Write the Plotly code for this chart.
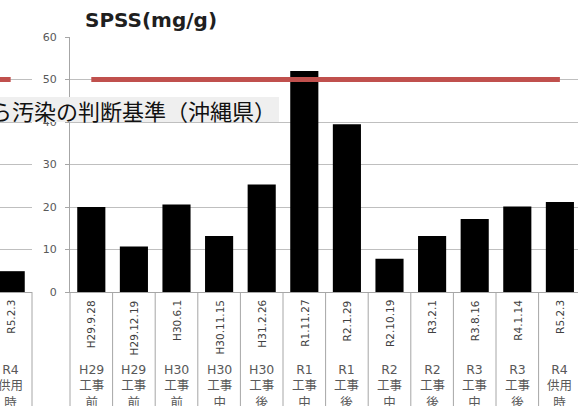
import plotly.graph_objects as go

# ---- data -------------------------------------------------------------
dates = ["H29.9.28", "H29.12.19", "H30.6.1", "H30.11.15", "H31.2.26", "R1.11.27",
         "R2.1.29", "R2.10.19", "R3.2.1", "R3.8.16", "R4.1.14", "R5.2.3"]
stages = ["H29<br>工事<br>前", "H29<br>工事<br>前", "H30<br>工事<br>前", "H30<br>工事<br>中",
          "H30<br>工事<br>後", "R1<br>工事<br>中", "R1<br>工事<br>後", "R2<br>工事<br>中",
          "R2<br>工事<br>後", "R3<br>工事<br>中", "R3<br>工事<br>後", "R4<br>供用<br>時"]
spss = [20.0, 10.7, 20.6, 13.2, 25.3, 52.0, 39.5, 7.8, 13.2, 17.2, 20.1, 21.2]
standard = 50  # 沖縄県の判断基準

# neighbouring panel (only its last survey is in view)
prev_dates = ["R5.2.3"]
prev_stages = ["R4<br>供用<br>時"]
prev_values = [4.9]

title_text = "SPSS(mg/g)"
standard_label = "ら汚染の判断基準（沖縄県）"

# ---- geometry (pixels) ------------------------------------------------
W, H = 578, 406
TOP, BOTTOM = 37, 292
MAIN_LEFT = 70
PREV_RIGHT = 32
CAT_W = 42.6
PLOT_H = BOTTOM - TOP

def px_x(p):
    return p / W

def px_y(p):
    return (BOTTOM - p) / PLOT_H

GRID = "#bfbfbf"
AXIS = "#a6a6a6"
TXT = "#595959"
RED = "#C0504D"
LATIN = "DejaVu Sans, Noto Sans CJK JP"

fig = go.Figure()

fig.add_trace(go.Bar(x=dates, y=spss, marker=dict(color="black", line=dict(width=0)),
                     width=0.66, xaxis="x", yaxis="y", showlegend=False))
fig.add_trace(go.Scatter(x=dates, y=[standard] * len(dates), mode="lines",
                         line=dict(color=RED, width=5), xaxis="x", yaxis="y",
                         showlegend=False))
fig.add_trace(go.Bar(x=prev_dates, y=prev_values, marker=dict(color="black", line=dict(width=0)),
                     width=0.66, xaxis="x2", yaxis="y2", showlegend=False))

n = len(dates)
fig.update_layout(
    width=W, height=H,
    margin=dict(l=0, r=0, t=TOP, b=H - BOTTOM, pad=0),
    paper_bgcolor="white", plot_bgcolor="white",
    xaxis=dict(domain=[px_x(MAIN_LEFT), 1], type="category",
               range=[-0.5, -0.5 + (W - MAIN_LEFT) / CAT_W],
               showline=True, linecolor=AXIS, linewidth=1,
               showgrid=False, showticklabels=False, ticks="", anchor="y"),
    yaxis=dict(domain=[0, 1], range=[0, 60], dtick=10, anchor="x",
               showgrid=True, gridcolor=GRID, gridwidth=1.3, zeroline=False,
               showline=True, linecolor=AXIS, linewidth=1,
               ticks="outside", ticklen=4, tickcolor=AXIS,
               ticklabelstandoff=6,
               tickfont=dict(family=LATIN, size=11, color=TXT)),
    xaxis2=dict(domain=[0, px_x(PREV_RIGHT)], type="category", range=[-0.25, 0.5],
                showline=True, linecolor=AXIS, linewidth=1,
                showgrid=False, showticklabels=False, ticks="", anchor="y2"),
    yaxis2=dict(domain=[0, 1], range=[0, 60], dtick=10, anchor="x2",
                showgrid=True, gridcolor=GRID, gridwidth=1.3, zeroline=False,
                showline=False, showticklabels=False, ticks=""),
    bargap=0.34,
)

shapes = []
# vertical rules of the category table
for k in range(1, n + 1):
    shapes.append(dict(type="line", xref="x", yref="paper", x0=k - 0.5, x1=k - 0.5,
                       y0=0, y1=-0.6, line=dict(color=AXIS, width=1)))
shapes.append(dict(type="line", xref="paper", yref="paper",
                   x0=px_x(MAIN_LEFT), x1=px_x(MAIN_LEFT), y0=0, y1=-0.6,
                   line=dict(color=AXIS, width=1)))
shapes.append(dict(type="line", xref="paper", yref="paper",
                   x0=px_x(PREV_RIGHT), x1=px_x(PREV_RIGHT), y0=0, y1=-0.6,
                   line=dict(color=AXIS, width=1)))
# standard line of the neighbouring panel
shapes.append(dict(type="line", xref="x2", yref="y2", x0=-1, x1=0,
                   y0=standard, y1=standard, line=dict(color=RED, width=5)))
# label background
shapes.append(dict(type="rect", xref="paper", yref="paper", layer="above",
                   x0=-0.02, x1=px_x(279), y0=px_y(122), y1=px_y(97),
                   fillcolor="#efefef", line=dict(width=0)))

annotations = []
for d, s in zip(dates, stages):
    annotations.append(dict(xref="x", yref="paper", x=d, y=0, yanchor="top",
                            yshift=-6, textangle=-90, text=d, showarrow=False,
                            font=dict(family=LATIN, size=10.5, color="#404040")))
    annotations.append(dict(xref="x", yref="paper", x=d, y=0, yanchor="top",
                            yshift=-68, text=s, showarrow=False, align="center",
                            font=dict(family=LATIN, size=12.5, color=TXT)))
for d, s in zip(prev_dates, prev_stages):
    annotations.append(dict(xref="x2", yref="paper", x=d, y=0, yanchor="top",
                            yshift=-6, textangle=-90, text=d, showarrow=False,
                            font=dict(family=LATIN, size=10.5, color="#404040")))
    annotations.append(dict(xref="x2", yref="paper", x=d, y=0, yanchor="top",
                            yshift=-68, text=s, showarrow=False, align="center",
                            font=dict(family=LATIN, size=12.5, color=TXT)))

annotations.append(dict(xref="paper", yref="paper", x=px_x(151), y=px_y(20),
                        xanchor="center", yanchor="middle", text=title_text,
                        showarrow=False,
                        font=dict(family="DejaVu Sans", size=20, color="#1f1f1f",
                                  weight="bold")))
annotations.append(dict(xref="paper", yref="paper", x=px_x(-12), y=px_y(110),
                        xanchor="left", yanchor="middle", text=standard_label,
                        showarrow=False,
                        font=dict(family="Noto Sans CJK JP", size=22, color="#111111")))

fig.update_layout(shapes=shapes, annotations=annotations)

fig.write_html("out.html")
